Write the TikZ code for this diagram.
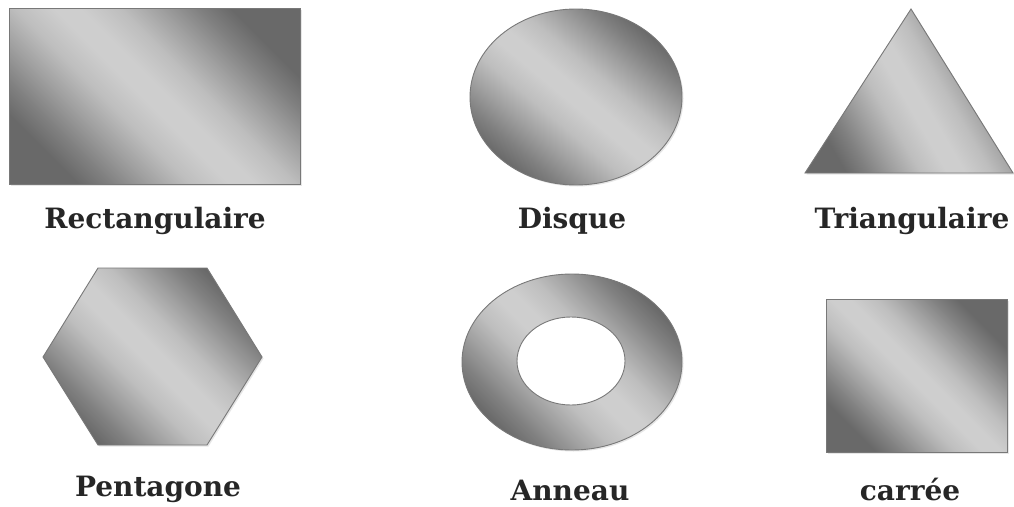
\documentclass[tikz,border=0pt]{standalone}
\usepackage{fontspec}
\setmainfont{DejaVu Serif}
\usetikzlibrary{shadows}
\definecolor{sdark}{RGB}{105,105,105}
\definecolor{sd1}{RGB}{128,128,128}
\definecolor{sd2}{RGB}{160,160,160}
\definecolor{sd3}{RGB}{190,190,190}
\definecolor{slight}{RGB}{206,206,206}
\definecolor{sedge}{RGB}{120,120,120}
\pgfdeclareverticalshading{softband}{100bp}{color(0bp)=(sdark); color(25bp)=(sdark);
  color(30bp)=(sd1); color(36bp)=(sd2); color(42bp)=(sd3); color(48bp)=(slight);
  color(52bp)=(slight); color(58bp)=(sd3); color(64bp)=(sd2); color(70bp)=(sd1);
  color(75bp)=(sdark); color(100bp)=(sdark)}
\tikzset{
  solid3d/.style={draw=sedge, line width=0.9pt, shading=softband, shading angle=-45,
    drop shadow={shadow xshift=1.5pt, shadow yshift=-1.5pt, opacity=0.2}},
  hole/.style={draw=sedge, line width=0.9pt, fill=white},
  lbl/.style={font=\bfseries\fontsize{28}{30}\selectfont, text=black!85, inner sep=0pt, anchor=base}
}
\begin{document}
\begin{tikzpicture}[x=1pt,y=-1pt]
\useasboundingbox (0,0) rectangle (1014,506);
% shapes
\path[solid3d] (9,8) rectangle (300,184);
\path[solid3d, shading angle=-40] (576,97) ellipse [x radius=106, y radius=88];
\path[solid3d, shading angle=-60] (805,173) -- (911,9) -- (1013,173) -- cycle;
\path[solid3d] (98,268) -- (207,268) -- (262,357) -- (207,445) -- (98,445) -- (43,357) -- cycle;
\path[solid3d] (572,362) ellipse [x radius=110, y radius=88];
\path[hole] (571,361) ellipse [x radius=54, y radius=44];
\path[solid3d] (826,299) rectangle (1007,452);
% labels
\node[lbl] (rect) at (155,228) {Rectangulaire};
\node[lbl] (disq) at (572,228) {Disque};
\node[lbl] (tri) at (912,228) {Triangulaire};
\node[lbl] (pent) at (158,496) {Pentagone};
\node[lbl] (ann) at (570,500) {Anneau};
\node[lbl] (carr) at (910,500) {carrée};
\end{tikzpicture}
\end{document}
